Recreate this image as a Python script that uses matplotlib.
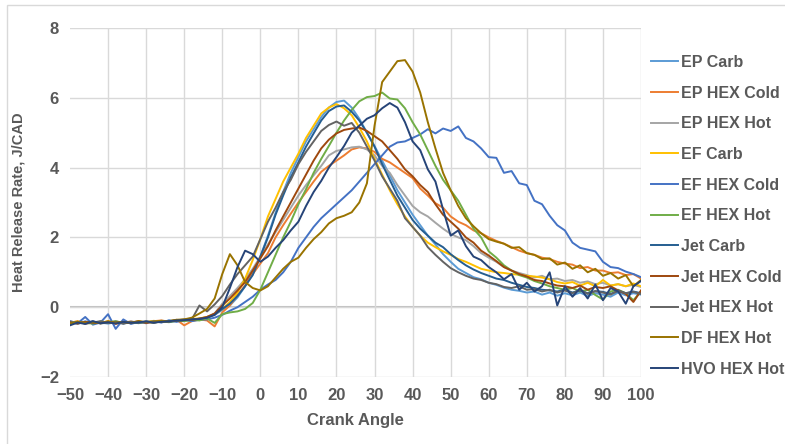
import numpy as np
import matplotlib
matplotlib.use("Agg")
from matplotlib import pyplot as plt
from matplotlib.patches import Rectangle

# crank angle grid, every 2 degrees
crank = np.arange(-50, 101, 2)

# heat release rate, J/CAD
ep_carb = [-0.42, -0.48, -0.40, -0.46, -0.44, -0.47, -0.43, -0.45, -0.41, -0.44, -0.42, -0.40, -0.43, -0.38, -0.40, -0.36, -0.37, -0.33,
           -0.30, -0.22, -0.08, 0.05, 0.28, 0.60, 1.00, 1.45,
           2.05, 2.70, 3.30, 3.85, 4.30, 4.75, 5.10, 5.45, 5.72, 5.88,
           5.92, 5.72, 5.40, 5.00, 4.62, 4.20, 3.78, 3.35, 3.00, 2.65,
           2.35, 2.05, 1.80, 1.52, 1.30, 1.10, 0.98, 0.86, 0.80, 0.70,
           0.64, 0.56, 0.50, 0.47, 0.42, 0.45, 0.36, 0.42, 0.33, 0.40,
           0.34, 0.42, 0.32, 0.40, 0.36, 0.30, 0.42, 0.34, 0.40, 0.36]
ep_hex_cold = [-0.45, -0.40, -0.47, -0.43, -0.46, -0.42, -0.48, -0.44, -0.41, -0.45, -0.43, -0.40, -0.38, -0.42, -0.36, -0.52, -0.40, -0.35,
               -0.38, -0.55, -0.15, 0.05, 0.35, 0.62, 0.95, 1.25,
               1.55, 2.00, 2.35, 2.68, 3.00, 3.30, 3.60, 3.88, 4.05, 4.20,
               4.35, 4.52, 4.58, 4.55, 4.45, 4.25, 4.15, 4.00, 3.85, 3.70,
               3.40, 3.20, 2.98, 2.85, 2.60, 2.45, 2.35, 2.20, 2.12, 2.00,
               1.90, 1.82, 1.72, 1.62, 1.55, 1.50, 1.42, 1.38, 1.30, 1.25,
               1.22, 1.12, 1.15, 1.05, 1.05, 0.98, 1.00, 0.92, 0.95, 0.82]
ep_hex_hot = [-0.40, -0.46, -0.43, -0.41, -0.47, -0.44, -0.40, -0.45, -0.42, -0.46, -0.41, -0.43, -0.39, -0.42, -0.37, -0.39, -0.35, -0.33,
              -0.28, -0.18, 0.10, 0.32, 0.55, 0.80, 1.10, 1.45,
              1.80, 2.15, 2.50, 2.85, 3.20, 3.50, 3.78, 4.05, 4.35, 4.48,
              4.52, 4.58, 4.60, 4.52, 4.35, 4.05, 3.85, 3.50, 3.20, 2.90,
              2.72, 2.60, 2.42, 2.25, 2.10, 2.00, 1.92, 1.75, 1.55, 1.42,
              1.30, 1.15, 1.05, 0.98, 0.92, 0.85, 0.90, 0.80, 0.82, 0.75,
              0.78, 0.70, 0.74, 0.66, 0.70, 0.62, 0.66, 0.60, 0.64, 0.58]
ef_carb = [-0.44, -0.41, -0.46, -0.43, -0.45, -0.40, -0.44, -0.42, -0.46, -0.41, -0.43, -0.39, -0.42, -0.40, -0.37, -0.36, -0.34, -0.32,
           -0.28, -0.20, -0.05, 0.15, 0.42, 0.82, 1.35, 1.95,
           2.60, 3.10, 3.60, 4.00, 4.40, 4.85, 5.20, 5.55, 5.72, 5.82,
           5.70, 5.50, 5.15, 4.75, 4.25, 3.80, 3.35, 2.95, 2.60, 2.30,
           2.05, 1.85, 1.72, 1.60, 1.50, 1.38, 1.30, 1.20, 1.10, 1.05,
           1.00, 0.98, 0.95, 0.93, 0.90, 0.88, 0.85, 0.80, 0.72, 0.68,
           0.72, 0.62, 0.70, 0.60, 0.78, 0.62, 0.66, 0.60, 0.68, 0.60]
ef_hex_cold = [-0.40, -0.46, -0.28, -0.50, -0.44, -0.20, -0.62, -0.35, -0.48, -0.42, -0.46, -0.40, -0.44, -0.38, -0.42, -0.37, -0.40, -0.36,
               -0.35, -0.30, -0.22, -0.10, 0.00, 0.15, 0.30, 0.50,
               0.65, 0.78, 1.00, 1.30, 1.70, 2.00, 2.30, 2.55, 2.75, 2.95,
               3.15, 3.35, 3.60, 3.85, 4.10, 4.35, 4.60, 4.72, 4.75, 4.85,
               4.95, 5.10, 4.98, 5.12, 5.05, 5.18, 4.85, 4.75, 4.55, 4.30,
               4.28, 3.85, 3.90, 3.55, 3.50, 3.05, 2.95, 2.62, 2.35, 2.20,
               1.85, 1.70, 1.65, 1.60, 1.30, 1.15, 1.12, 1.02, 0.95, 0.86]
ef_hex_hot = [-0.44, -0.42, -0.45, -0.47, -0.41, -0.44, -0.40, -0.46, -0.43, -0.45, -0.42, -0.44, -0.41, -0.43, -0.39, -0.40, -0.36, -0.38,
              -0.32, -0.45, -0.20, -0.15, -0.12, -0.05, 0.12, 0.50,
              1.00, 1.50, 2.00, 2.45, 2.95, 3.38, 3.85, 4.25, 4.62, 5.00,
              5.35, 5.65, 5.90, 6.02, 6.05, 6.15, 5.98, 5.95, 5.70, 5.30,
              4.95, 4.50, 4.05, 3.65, 3.35, 3.05, 2.65, 2.25, 2.00, 1.60,
              1.42, 1.20, 1.05, 0.92, 0.85, 0.75, 0.68, 0.60, 0.55, 0.50,
              0.55, 0.45, 0.50, 0.35, 0.22, 0.45, 0.50, 0.40, 0.20, 0.45]
jet_carb = [-0.48, -0.43, -0.45, -0.41, -0.46, -0.44, -0.42, -0.47, -0.43, -0.45, -0.41, -0.44, -0.40, -0.42, -0.39, -0.37, -0.35, -0.33,
            -0.30, -0.20, -0.05, 0.10, 0.32, 0.60, 0.92, 1.45,
            2.00, 2.65, 3.20, 3.72, 4.15, 4.60, 4.98, 5.35, 5.62, 5.75,
            5.78, 5.60, 5.35, 5.00, 4.60, 4.10, 3.65, 3.20, 2.85, 2.50,
            2.25, 2.05, 1.85, 1.72, 1.52, 1.35, 1.20, 1.08, 0.98, 0.90,
            0.82, 0.78, 0.70, 0.64, 0.58, 0.55, 0.50, 0.48, 0.45, 0.50,
            0.42, 0.48, 0.40, 0.46, 0.44, 0.38, 0.46, 0.40, 0.45, 0.40]
jet_hex_cold = [-0.43, -0.47, -0.42, -0.45, -0.44, -0.41, -0.46, -0.43, -0.44, -0.40, -0.45, -0.42, -0.41, -0.40, -0.38, -0.37, -0.36, -0.33,
                -0.28, -0.18, 0.05, 0.25, 0.48, 0.72, 1.05, 1.40,
                1.75, 2.20, 2.60, 3.00, 3.40, 3.80, 4.20, 4.55, 4.80, 4.98,
                5.08, 5.12, 5.15, 5.05, 4.90, 4.75, 4.50, 4.25, 3.95, 3.75,
                3.50, 3.30, 2.95, 2.65, 2.45, 2.25, 2.00, 1.85, 1.62, 1.48,
                1.32, 1.15, 1.05, 0.95, 0.88, 0.78, 0.75, 0.68, 0.62, 0.60,
                0.55, 0.62, 0.50, 0.58, 0.55, 0.60, 0.48, 0.38, 0.15, 0.48]
jet_hex_hot = [-0.46, -0.42, -0.47, -0.44, -0.40, -0.45, -0.43, -0.47, -0.42, -0.44, -0.41, -0.45, -0.40, -0.41, -0.38, -0.35, -0.35, 0.05,
               -0.12, 0.08, 0.32, 0.65, 0.95, 1.20, 1.45, 1.95,
               2.45, 2.85, 3.30, 3.65, 4.10, 4.45, 4.75, 5.05, 5.22, 5.32,
               5.20, 5.28, 5.00, 4.60, 4.20, 3.75, 3.40, 3.05, 2.55, 2.30,
               2.05, 1.72, 1.50, 1.30, 1.12, 1.00, 0.90, 0.82, 0.78, 0.70,
               0.66, 0.58, 0.55, 0.60, 0.50, 0.52, 0.45, 0.50, 0.42, 0.48,
               0.40, 0.50, 0.38, 0.46, 0.42, 0.36, 0.48, 0.40, 0.44, 0.38]
df_hex_hot = [-0.47, -0.42, -0.45, -0.43, -0.46, -0.41, -0.44, -0.42, -0.45, -0.40, -0.43, -0.41, -0.39, -0.40, -0.36, -0.35, -0.30, -0.18,
              -0.05, 0.25, 0.95, 1.52, 1.20, 0.72, 0.55, 0.48,
              0.60, 0.85, 1.10, 1.30, 1.42, 1.70, 1.95, 2.15, 2.40, 2.55,
              2.62, 2.72, 3.00, 3.55, 5.20, 6.45, 6.75, 7.05, 7.08, 6.75,
              6.15, 5.30, 4.55, 3.85, 3.35, 2.90, 2.55, 2.32, 2.12, 1.95,
              1.88, 1.82, 1.70, 1.72, 1.55, 1.50, 1.38, 1.40, 1.22, 1.28,
              1.10, 1.20, 1.00, 1.10, 0.90, 0.98, 0.82, 0.92, 0.60, 0.78]
hvo_hex_hot = [-0.52, -0.44, -0.48, -0.40, -0.46, -0.43, -0.47, -0.42, -0.45, -0.43, -0.41, -0.44, -0.42, -0.40, -0.38, -0.37, -0.35, -0.34,
               -0.30, -0.22, 0.00, 0.55, 1.15, 1.62, 1.52, 1.30,
               1.45, 1.70, 1.92, 2.20, 2.45, 2.90, 3.30, 3.62, 4.00, 4.30,
               4.62, 5.00, 5.20, 5.40, 5.50, 5.70, 5.85, 5.72, 5.30, 4.75,
               4.50, 3.95, 3.60, 2.80, 2.05, 2.20, 1.75, 1.45, 1.35, 1.15,
               1.00, 0.80, 0.95, 0.50, 0.70, 0.45, 0.60, 1.00, 0.05, 0.60,
               0.30, 0.55, 0.25, 0.65, 0.20, 0.55, 0.45, 0.10, 0.60, 0.75]

labels = ["EP Carb", "EP HEX Cold", "EP HEX Hot", "EF Carb", "EF HEX Cold",
          "EF HEX Hot", "Jet Carb", "Jet HEX Cold", "Jet HEX Hot",
          "DF HEX Hot", "HVO HEX Hot"]
series = [ep_carb, ep_hex_cold, ep_hex_hot, ef_carb, ef_hex_cold,
          ef_hex_hot, jet_carb, jet_hex_cold, jet_hex_hot,
          df_hex_hot, hvo_hex_hot]
colors = ["#5B9BD5", "#ED7D31", "#A5A5A5", "#FFC000", "#4472C4",
          "#70AD47", "#255E91", "#9E480E", "#636363", "#997300", "#264478"]

plt.rcParams["font.family"] = ["Liberation Sans", "DejaVu Sans"]
text_col = "#595959"

fig = plt.figure(figsize=(7.85, 4.44), dpi=100)
ax = fig.add_axes([70 / 785, 67 / 444, 571 / 785, 349 / 444])

# outer chart border
fig.patches.append(Rectangle((6.5 / 785, -0.05), 1.0, (444 - 5.5) / 444 + 0.05,
                             transform=fig.transFigure, fill=False,
                             edgecolor="#D9D9D9", linewidth=1.0))

for vals, lab, col in zip(series, labels, colors):
    ax.plot(crank, vals, color=col, linewidth=1.4, label=lab)

ax.set_xlim(-50, 100)
ax.set_ylim(-2, 8)
ax.set_xticks(range(-50, 101, 10))
ax.set_yticks(range(-2, 9, 2))
ax.grid(True, color="#D9D9D9", linewidth=1.0)
ax.set_axisbelow(True)
ax.get_xgridlines()[0].set_visible(False)
ax.axhline(0, color="#BFBFBF", linewidth=1.5, zorder=0.5)
for s in ax.spines.values():
    s.set_visible(False)
ax.tick_params(length=0, labelsize=12, labelcolor=text_col, pad=8)
for t in ax.get_xticklabels() + ax.get_yticklabels():
    t.set_fontweight("bold")

ax.set_xlabel("Crank Angle", fontsize=12, fontweight="bold", color=text_col, labelpad=7)
ax.set_ylabel("Heat Release Rate, J/CAD", fontsize=10.5, fontweight="bold", color=text_col)
ax.yaxis.set_label_coords((26 - 70) / 571, 0.5)

leg = fig.legend(loc="upper left", bbox_to_anchor=(651 / 785, 1 - 55 / 444),
                 frameon=False, fontsize=11.5, handlelength=1.7, handletextpad=0.2,
                 labelspacing=0.98, borderaxespad=0, borderpad=0)
for t in leg.get_texts():
    t.set_color(text_col)
    t.set_fontweight("bold")

fig.savefig("out.png", dpi=100)
